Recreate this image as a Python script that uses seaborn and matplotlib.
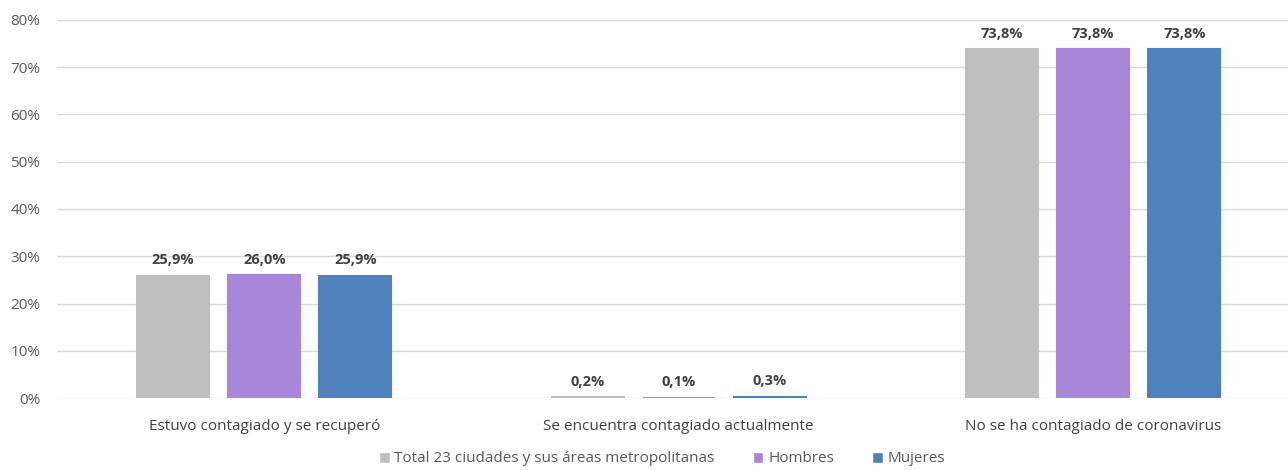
import matplotlib
matplotlib.use("Agg")
import matplotlib.pyplot as plt
import matplotlib.ticker as ticker
import seaborn as sns
import pandas as pd

# ---------------------------------------------------------------------------
# Data
# ---------------------------------------------------------------------------
categories = [
    "Estuvo contagiado y se recuperó",
    "Se encuentra contagiado actualmente",
    "No se ha contagiado de coronavirus",
]
series_names = ["Total 23 ciudades y sus áreas metropolitanas", "Hombres", "Mujeres"]
total_vals = [25.9, 0.2, 73.8]
hombres_vals = [26.0, 0.1, 73.8]
mujeres_vals = [25.9, 0.3, 73.8]

colors = ["#BFBFBF", "#A886DA", "#4F81BD"]

df = pd.DataFrame({
    "categoria": categories * 3,
    "serie": [s for s in series_names for _ in categories],
    "valor": total_vals + hombres_vals + mujeres_vals,
})

# ---------------------------------------------------------------------------
# Style
# ---------------------------------------------------------------------------
sns.set_style("white")
plt.rcParams["font.family"] = ["Open Sans", "DejaVu Sans"]

fig = plt.figure(figsize=(12.88, 4.70), dpi=100)
ax = fig.add_axes([57 / 1288, 1 - 398 / 470, 1 - 57 / 1288, (398 - 20) / 470])

sns.barplot(
    data=df, x="categoria", y="valor", hue="serie",
    hue_order=series_names, order=categories,
    palette=colors, width=0.66, gap=0.21, saturation=1,
    ax=ax, legend=True,
)

# thin bars still show as a line, like the source
for cont in ax.containers:
    for bar in cont:
        bar.set_edgecolor(bar.get_facecolor())
        bar.set_linewidth(1.5)

ax.set_ylim(0, 80)
ax.set_xlim(-0.5, 2.47)
ax.yaxis.set_major_locator(ticker.MultipleLocator(10))
ax.yaxis.set_major_formatter(ticker.FuncFormatter(lambda v, _: f"{v:.0f}%"))
ax.grid(axis="y", color="#D9D9D9", linewidth=1)
ax.set_axisbelow(True)
for sp in ax.spines.values():
    sp.set_visible(False)
ax.set_xlabel("")
ax.set_ylabel("")
ax.tick_params(axis="y", length=0, labelsize=11, labelcolor="#595959", pad=12)
ax.tick_params(axis="x", length=0, labelsize=11, labelcolor="#404040", pad=15)

for cont in ax.containers:
    ax.bar_label(
        cont, labels=[f"{v:.1f}%".replace(".", ",") for v in cont.datavalues],
        padding=6, fontsize=10.5, fontweight="bold", color="#404040",
    )

handles, labels = ax.get_legend_handles_labels()
ax.get_legend().remove()
fig.legend(
    handles, labels, loc="center", bbox_to_anchor=(662 / 1288, 1 - 459 / 470),
    ncol=3, frameon=False, fontsize=11, labelcolor="#595959",
    handlelength=0.7, handleheight=0.7, handletextpad=0.3, columnspacing=2.5,
    borderaxespad=0, borderpad=0,
)

fig.savefig("out.png", dpi=100)
